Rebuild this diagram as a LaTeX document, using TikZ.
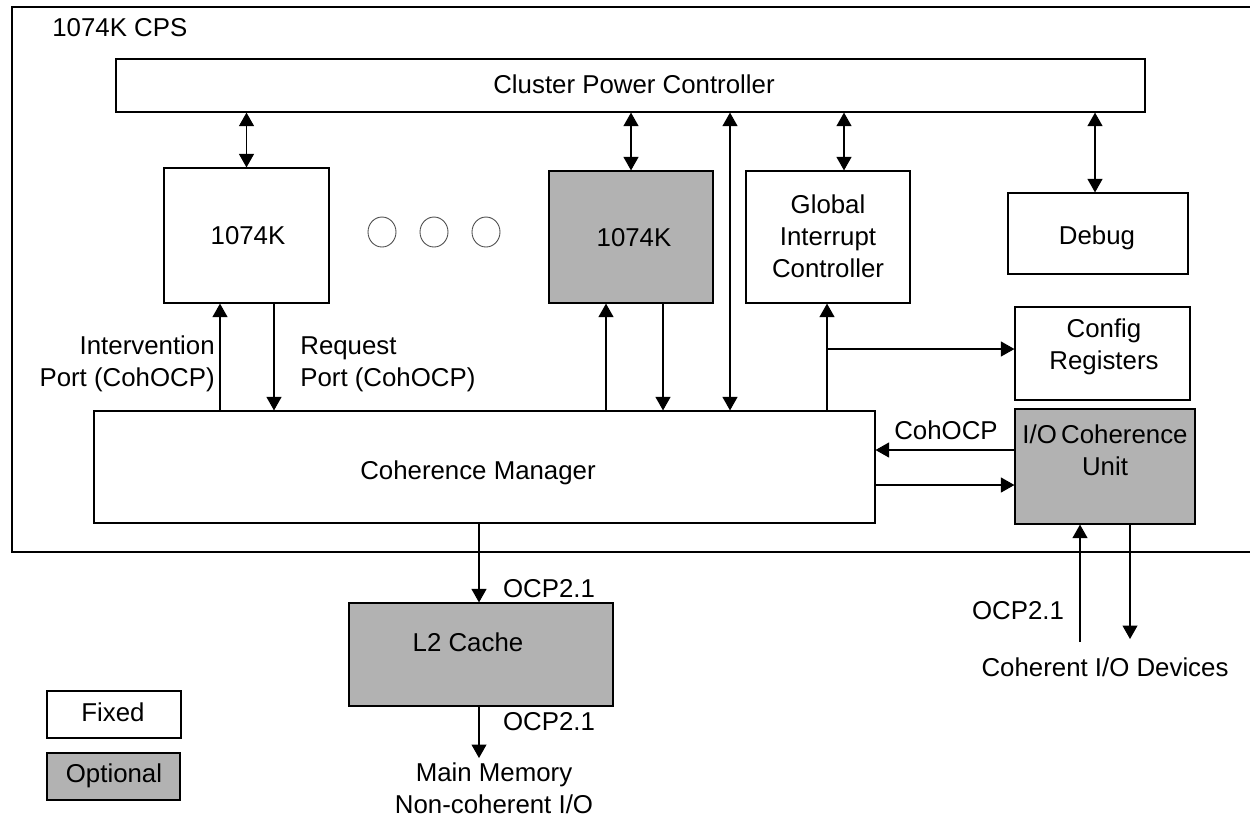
\documentclass[tikz,border=0pt]{standalone}
\usepackage{fontspec}
\setmainfont{Liberation Sans}
\usetikzlibrary{arrows.meta}
\begin{document}
\begin{tikzpicture}[x=0.02cm,y=-0.02cm,
  every node/.style={font=\fontsize{14.7pt}{18.2pt}\selectfont, inner sep=0pt},
  blk/.style={draw, line width=0.7pt, fill=white},
  opt/.style={draw, line width=0.7pt, fill=black!30},
  conn/.style={line width=0.6pt, -{Triangle[length=0.27cm,width=0.3cm]}},
  dconn/.style={line width=0.6pt, {Triangle[length=0.27cm,width=0.3cm]}-{Triangle[length=0.27cm,width=0.3cm]}},
  txt/.style={align=center}
]
\useasboundingbox (0,0) rectangle (1250,816);
% outer frame (right side beyond the picture)
\draw[line width=0.7pt] (1250,7) -- (12,7) -- (12,552) -- (1250,552);
\node[anchor=west] (cps) at (52,28) {1074K CPS};

% blocks
\node[blk, minimum width=20.58cm, minimum height=1.06cm] (cpc) at (630.5,85.5) {};
\node (cpct) at (634,84) {Cluster Power Controller};
\node[blk, minimum width=3.3cm, minimum height=2.7cm] (k1) at (246.5,235.5) {};
\node (k1t) at (248,236) {1074K};
\node[opt, minimum width=3.28cm, minimum height=2.64cm] (k2) at (631,237) {};
\node (k2t) at (634,238) {1074K};
\node[blk, minimum width=3.28cm, minimum height=2.64cm] (gic) at (828,237) {};
\node[txt] (gict) at (828,236) {Global\\Interrupt\\Controller};
\node[blk, minimum width=3.6cm, minimum height=1.62cm] (dbg) at (1098,233.5) {};
\node (dbgt) at (1097,238) {Debug};
\node[blk, minimum width=3.5cm, minimum height=1.86cm] (cfg) at (1102.5,353.5) {};
\node[txt] (cfgt) at (1104,347) {Config\\Registers};
\node[opt, minimum width=3.6cm, minimum height=2.3cm] (iocu) at (1105,466.5) {};
\node[txt] (iocut) at (1105,450) {I/O\,Coherence\\Unit};
\node[blk, minimum width=15.62cm, minimum height=2.24cm] (cm) at (484.5,467) {};
\node (cmt) at (478,473) {Coherence Manager};
\node[opt, minimum width=5.28cm, minimum height=2.06cm] (l2) at (481,654.5) {};
\node (l2t) at (468,642) {L2 Cache};
\node[blk, minimum width=2.68cm, minimum height=0.94cm] (fixed) at (114,714.5) {};
\node (fixedt) at (113,712) {Fixed};
\node[opt, minimum width=2.66cm, minimum height=0.94cm] (optb) at (113.5,776.5) {};
\node (optt) at (114,776) {Optional};

% dots
\foreach \cx in {382,434,486}
  \draw[line width=0.5pt, black!70] (\cx,232) ellipse [x radius=14, y radius=15];

% helper coordinates
\coordinate (xa) at (220,0);
\coordinate (xb) at (274,0);
\coordinate (xc) at (606,0);
\coordinate (xd) at (663,0);
\coordinate (xe) at (730,0);
\coordinate (xf) at (844,0);
\coordinate (xg) at (827,0);
\coordinate (xh) at (1095,0);
\coordinate (xi) at (479,0);
\coordinate (xj) at (1080,0);
\coordinate (xk) at (1130,0);
\coordinate (ya) at (0,450);
\coordinate (yb) at (0,485);
\coordinate (br) at (827,349);
\coordinate (mem) at (479,758);
\coordinate (devup) at (1080,642);
\coordinate (devdn) at (1130,639);

% connectors to CPC
\draw[dconn] (cpc.south -| k1.north) -- (k1.north);
\draw[dconn] (cpc.south -| k2.north) -- (k2.north);
\draw[dconn] (cpc.south -| xe) -- (cm.north -| xe);
\draw[dconn] (cpc.south -| xf) -- (gic.north -| xf);
\draw[dconn] (cpc.south -| xh) -- (dbg.north -| xh);

% cores <-> CM
\draw[conn] (cm.north -| xa) -- (k1.south -| xa);
\draw[conn] (k1.south -| xb) -- (cm.north -| xb);
\draw[conn] (cm.north -| xc) -- (k2.south -| xc);
\draw[conn] (k2.south -| xd) -- (cm.north -| xd);

% GIC and config
\draw[conn] (cm.north -| xg) -- (gic.south -| xg);
\draw[conn] (br) -- (br -| cfg.west);

% IOCU <-> CM
\draw[conn] (iocu.west |- ya) -- (cm.east |- ya);
\draw[conn] (cm.east |- yb) -- (iocu.west |- yb);
\node[anchor=south] (cohocp) at (946,440) {CohOCP};

% CM -> L2 -> memory
\draw[conn] (cm.south -| xi) -- (l2.north -| xi);
\draw[conn] (l2.south -| xi) -- (mem);
\node (ocpa) at (549,589) {OCP2.1};
\node (ocpb) at (549,722) {OCP2.1};
\node[txt] (memt) at (494,788) {Main Memory\\Non-coherent I/O};

% IOCU <-> devices
\draw[conn] (devup) -- (iocu.south -| xj);
\draw[conn] (iocu.south -| xk) -- (devdn);
\node (ocpc) at (1018,611) {OCP2.1};
\node (devt) at (1105,667) {Coherent I/O Devices};

% port labels
\node[align=right, anchor=east] (intv) at (215,364) {Intervention\\Port (CohOCP)};
\node[align=left, anchor=west] (req) at (300,364) {Request\\Port (CohOCP)};
\end{tikzpicture}
\end{document}
